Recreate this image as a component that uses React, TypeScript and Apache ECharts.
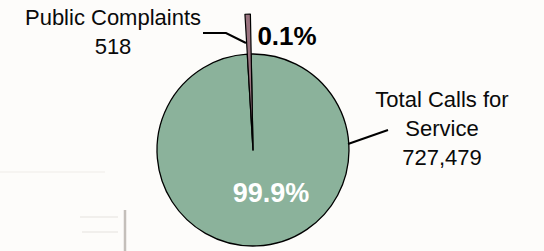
import React, { useEffect, useRef } from "react";
import * as echarts from "echarts";

const categories = ["Public Complaints", "Total Calls for\nService"];
const values = [518, 727479];
const colors = ["#9B7480", "#8BB29B"];

const total = values.reduce((a, b) => a + b, 0);
const pct = (v: number) => ((v / total) * 100).toFixed(1) + "%";
const fmt = (v: number) => v.toLocaleString("en-US");

export default function App() {
  const ref = useRef<HTMLDivElement>(null);
  useEffect(() => {
    document.body.style.margin = "0";
    const chart = echarts.init(ref.current!, undefined, { renderer: "svg" });
    const font = "'Liberation Sans', Arial, sans-serif";
    const center = [253, 150];
    const common = {
      type: "pie",
      center,
      startAngle: 93.4,
      clockwise: true,
      minAngle: 2.3,
      avoidLabelOverlap: false,
      animation: false,
    };
    const innerData = categories.map((c, i) => ({
      name: c,
      value: values[i],
      itemStyle:
        i === 1
          ? { color: colors[1], borderColor: "#000", borderWidth: 1.3 }
          : { color: "rgba(0,0,0,0)", borderWidth: 0 },
      label:
        i === 1
          ? {
              show: true,
              position: "inside",
              formatter: () => pct(values[i]),
              color: "#fff",
              fontSize: 27,
              fontWeight: "bold",
              fontFamily: font,
            }
          : {
              show: true,
              position: "outside",
              formatter: () => pct(values[i]),
              color: "#000",
              fontSize: 26,
              fontWeight: "bold",
              fontFamily: font,
            },
      labelLine: { show: false },
    }));
    const outerData = categories.map((c, i) => ({
      name: c,
      value: values[i],
      itemStyle:
        i === 0
          ? { color: colors[0], borderColor: "#000", borderWidth: 1.2 }
          : { color: "rgba(0,0,0,0)", borderWidth: 0 },
      label: {
        show: true,
        position: "outside",
        formatter: () => c + "\n" + fmt(values[i]),
        color: "#0a0a0a",
        fontSize: 22,
        lineHeight: 29,
        align: "center",
        fontFamily: font,
      },
      labelLine: { show: true, lineStyle: { color: "#000", width: 2 } },
    }));
    const innerPos = [
      { x: 287, y: 36 },
      { x: 271, y: 193 },
    ];
    const outerPos = [
      { x: 113, y: 32, pts: [[203, 33], [226, 33], [246, 43]] },
      { x: 442, y: 128, pts: [[348, 144], [388, 130], [388, 130]] },
    ];
    chart.setOption({
      animation: false,
      backgroundColor: "#FDFCFA",
      graphic: [
        { type: "line", shape: { x1: 125, y1: 210, x2: 125, y2: 251 }, style: { stroke: "#C4BFBA", lineWidth: 2.5 }, z: -10 },
        { type: "line", shape: { x1: 80, y1: 217, x2: 118, y2: 217 }, style: { stroke: "#F1EFEC", lineWidth: 2 }, z: -10 },
        { type: "line", shape: { x1: 82, y1: 232, x2: 118, y2: 232 }, style: { stroke: "#F1EFEC", lineWidth: 2 }, z: -10 },
        { type: "line", shape: { x1: 0, y1: 172, x2: 105, y2: 172 }, style: { stroke: "#F6F4F1", lineWidth: 2 }, z: -10 },
      ],
      series: [
        {
          ...common,
          radius: [0, 96],
          data: innerData,
          z: 1,
          labelLayout: (p: any) => ({
            x: innerPos[p.dataIndex].x,
            y: innerPos[p.dataIndex].y,
            align: "center",
            verticalAlign: "middle",
          }),
        },
        {
          ...common,
          radius: [0, 136],
          data: outerData,
          z: 2,
          labelLayout: (p: any) => ({
            x: outerPos[p.dataIndex].x,
            y: outerPos[p.dataIndex].y,
            align: "center",
            verticalAlign: "middle",
            labelLinePoints: outerPos[p.dataIndex].pts,
          }),
        },
      ],
    });
    return () => chart.dispose();
  }, []);
  return <div ref={ref} style={{ width: 544, height: 251 }} />;
}
